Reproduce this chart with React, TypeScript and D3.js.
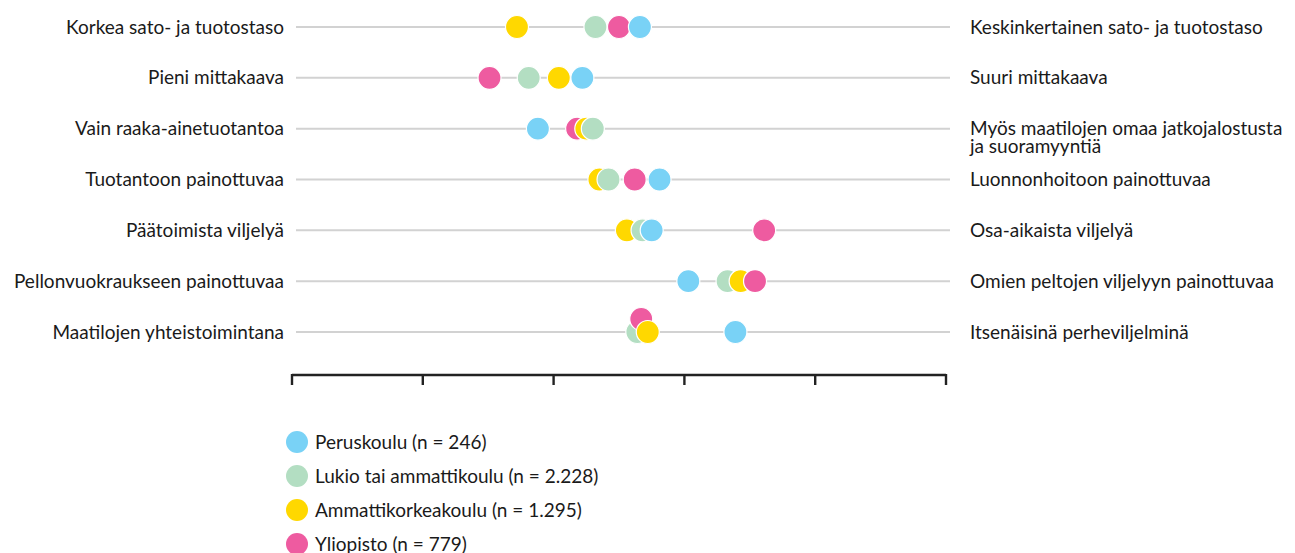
import React from 'react';
import * as d3 from 'd3';

const leftLabels = [
  'Korkea sato- ja tuotostaso',
  'Pieni mittakaava',
  'Vain raaka-ainetuotantoa',
  'Tuotantoon painottuvaa',
  'Päätoimista viljelyä',
  'Pellonvuokraukseen painottuvaa',
  'Maatilojen yhteistoimintana',
];
const rightLabels = [
  ['Keskinkertainen sato- ja tuotostaso'],
  ['Suuri mittakaava'],
  ['Myös maatilojen omaa jatkojalostusta', 'ja suoramyyntiä'],
  ['Luonnonhoitoon painottuvaa'],
  ['Osa-aikaista viljelyä'],
  ['Omien peltojen viljelyyn painottuvaa'],
  ['Itsenäisinä perheviljelminä'],
];
const seriesNames = [
  'Peruskoulu (n = 246)',
  'Lukio tai ammattikoulu (n = 2.228)',
  'Ammattikorkeakoulu (n = 1.295)',
  'Yliopisto (n = 779)',
];
const seriesColors = ['#79D2F6', '#B3DEC2', '#FFD800', '#EE5BA0'];
const peruskoulu = [2.66, 2.22, 1.88, 2.81, 2.75, 3.03, 3.39];
const lukio = [2.32, 1.81, 2.3, 2.42, 2.68, 3.33, 2.64];
const ammattikorkeakoulu = [1.72, 2.04, 2.25, 2.35, 2.56, 3.43, 2.72];
const yliopisto = [2.5, 1.51, 2.18, 2.62, 3.61, 3.54, 2.67];
const axisTicks = [0, 1, 2, 3, 4, 5];

const seriesValues = [peruskoulu, lukio, ammattikorkeakoulu, yliopisto];

const W = 1295;
const H = 553;
const FONT = 'Lato, "Open Sans", sans-serif';
const FS = 19;
const TEXT = '#1a1a1a';

export default function App() {
  const x = d3.scaleLinear().domain([0, 5]).range([292, 946]);
  const y = d3.scalePoint<string>().domain(leftLabels).range([27, 332]);
  const r = 11.5;
  const axisY = 375;

  const rows = leftLabels.map((lab, i) => {
    const dots = seriesValues
      .map((vals, s) => ({ s, v: vals[i], px: x(vals[i]) }))
      .sort((a, b) => a.v - b.v);
    const base: number[] = [];
    const placed = dots.map((d) => {
      const clash = base.some((b) => Math.abs(b - d.px) < 6);
      if (!clash) base.push(d.px);
      return { ...d, py: (y(lab) as number) + (clash ? -13 : 0) };
    });
    return { lab, cy: y(lab) as number, placed };
  });

  return (
    <svg
      width={W}
      height={H}
      style={{ position: 'absolute', left: 0, top: 0, display: 'block', background: '#fff' }}
      fontFamily={FONT}
      fontSize={FS}
    >
      {rows.map((row, i) => (
        <g key={row.lab}>
          <line x1={x(0) + 4} x2={x(5) + 4} y1={row.cy} y2={row.cy} stroke="#d2d2d2" strokeWidth={2} />
          <text x={284} y={row.cy} dy="0.35em" textAnchor="end" fill={TEXT}>
            {row.lab}
          </text>
          {rightLabels[i].map((t, k) => (
            <text key={k} x={970} y={row.cy + k * 18} dy="0.35em" fill={TEXT}>
              {t}
            </text>
          ))}
        </g>
      ))}
      {rows.map((row) => (
        <g key={row.lab + 'dots'}>
          {row.placed.map((d) => (
            <circle key={d.s} cx={d.px} cy={d.py} r={r} fill={seriesColors[d.s]} stroke="#fff" strokeWidth={1.2} />
          ))}
        </g>
      ))}
      <g>
        <line x1={x(0)} x2={x(5)} y1={axisY} y2={axisY} stroke="#222" strokeWidth={2.4} />
        {axisTicks.map((t) => (
          <line key={t} x1={x(t)} x2={x(t)} y1={axisY - 1} y2={axisY + 10} stroke="#222" strokeWidth={2.4} />
        ))}
      </g>
      <g>
        {seriesNames.map((n, i) => (
          <g key={n} transform={`translate(297, ${442 + i * 34})`}>
            <circle r={11} fill={seriesColors[i]} />
            <text x={18} dy="0.35em" fill={TEXT}>
              {n}
            </text>
          </g>
        ))}
      </g>
    </svg>
  );
}
